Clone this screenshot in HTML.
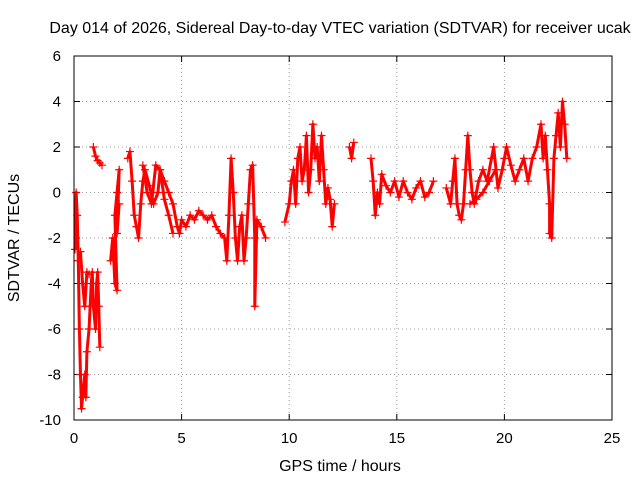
<!DOCTYPE html>
<html><head><meta charset="utf-8"><style>
body{margin:0;background:#fff;}
svg{display:block;font-family:"Liberation Sans",sans-serif;}
</style></head><body>
<svg id="chart" width="640" height="480" viewBox="0 0 640 480">
<rect width="640" height="480" fill="#fff"/>
<text x="340" y="33" font-size="16" text-anchor="middle">Day 014 of 2026, Sidereal Day-to-day VTEC variation (SDTVAR) for receiver ucak</text>
<text x="340" y="471" font-size="16" text-anchor="middle">GPS time / hours</text>
<text transform="translate(19,238) rotate(-90)" font-size="16" text-anchor="middle">SDTVAR / TECUs</text>
<g id="grid"></g><g id="ticks"></g><g id="series"></g>
<rect x="74" y="56" width="538" height="364" fill="none" stroke="#000" stroke-width="1"/>
</svg>
<script>
const xTicks=[0,5,10,15,20,25];
const yTicks=[-10,-8,-6,-4,-2,0,2,4,6];
const segA=[[0.05,-2.5],[0.1,0],[0.15,-1],[0.2,-3],[0.25,-6],[0.3,-8],[0.35,-9.5],[0.4,-9],[0.5,-8],[0.55,-9],[0.6,-7],[0.7,-6],[0.75,-5],[0.8,-4],[0.85,-3.5],[0.9,-5],[1.0,-6],[1.05,-4],[1.1,-3.5],[1.15,-5],[1.2,-6.8]];
const segB=[[0.3,-2.6],[0.4,-4],[0.5,-5],[0.6,-3.5],[0.7,-3.6]];
const segC=[[0.9,2],[1.0,1.6],[1.1,1.4],[1.2,1.3],[1.3,1.2]];
const segD=[[1.7,-3],[1.8,-2],[1.9,-4],[2.0,-4.3],[1.9,-1],[2.0,0],[2.1,1],[2.0,-1.8],[2.1,-0.5]];
const segE=[[2.5,1.5],[2.6,1.8],[2.7,0.5],[2.8,-1],[2.9,-1.5],[3.0,-2],[3.1,-0.5],[3.2,0.5],[3.3,1],[3.5,0.3],[3.7,-0.5],[3.9,0],[4.0,1],[4.2,0.5],[4.4,0],[4.6,-0.5],[4.8,-1.5],[4.9,-1.8],[5.0,-1.2],[5.2,-1.5],[5.4,-1],[5.6,-1.2],[5.8,-0.8],[6.0,-1],[6.2,-1.2],[6.4,-1],[6.6,-1.5],[6.8,-1.8],[7.0,-2],[7.1,-3],[7.2,-1],[7.3,1.5],[7.4,0],[7.5,-2],[7.6,-3],[7.7,-1.5],[7.8,-1],[7.9,-3],[8.0,-2],[8.1,-0.5],[8.2,1],[8.3,1.2],[8.4,-2],[8.4,-5],[8.5,-1.2],[8.7,-1.5],[8.9,-2]];
const segF=[[3.2,1.2],[3.4,0],[3.6,-0.5],[3.8,1.2],[4.0,1],[4.2,-0.3],[4.4,-1],[4.6,-1.8]];
const segG=[[9.8,-1.3],[10.0,-0.5],[10.1,0.5],[10.2,1],[10.3,-0.5],[10.4,1.5],[10.5,2],[10.6,0.5],[10.7,1],[10.8,2.5],[10.9,0],[11.0,1],[11.1,3],[11.2,1.5],[11.3,2],[11.4,0.5],[11.5,2.5],[11.6,1],[11.7,-0.5],[11.8,0.2],[11.9,-0.3],[12.0,-1.5],[12.1,-0.5]];
const segH=[[12.8,2],[12.9,1.5],[13.0,2.2]];
const segI=[[13.8,1.5],[13.9,0.5],[14.0,-1],[14.1,0],[14.2,-0.5],[14.3,0.8],[14.5,0.3],[14.7,0],[14.9,0.5],[15.1,-0.2],[15.3,0.5],[15.5,0],[15.7,-0.3],[15.9,0.2],[16.1,0.5],[16.3,-0.2],[16.5,0],[16.7,0.5]];
const segJ=[[17.3,0.2],[17.5,-0.5],[17.6,0.5],[17.7,1.5],[17.8,-0.5],[17.9,-1],[18.0,-1.2],[18.1,-0.5],[18.2,1],[18.3,2.5],[18.4,1],[18.5,0],[18.6,-0.5],[18.8,0.5],[19.0,1],[19.2,0.5],[19.4,1.5],[19.5,2],[19.7,0.2],[19.9,1],[20.0,1.5],[20.1,2],[20.3,1.2],[20.5,0.5],[20.7,1],[20.9,1.5],[21.1,0.5],[21.3,1.5],[21.5,2],[21.7,3],[21.8,1.5],[21.9,2.5],[22.0,1],[22.1,-0.5],[22.1,-1.8],[22.2,-2],[22.3,1.5],[22.4,2.5],[22.5,3.5],[22.6,2],[22.7,4],[22.8,3],[22.9,1.5]];
const segK=[[18.4,-0.5],[18.7,-0.3],[19.0,0],[19.3,0.5],[19.6,1]];
const segments=[segA,segB,segC,segD,segE,segF,segG,segH,segI,segJ,segK];

const X0=74,X1=612,Y0=420,Y1=56;
const xs=t=>X0+(t-0)/(25-0)*(X1-X0);
const ys=v=>Y0-(v+10)/(16)*(Y0-Y1);
const NS="http://www.w3.org/2000/svg";
const mk=(tag,at,parent)=>{const e=document.createElementNS(NS,tag);for(const k in at)e.setAttribute(k,at[k]);parent.appendChild(e);return e;};
const grid=document.getElementById('grid'),ticks=document.getElementById('ticks'),ser=document.getElementById('series');
xTicks.forEach(t=>{const x=xs(t);
 const g=mk('line',{x1:x,x2:x,y1:Y1,y2:Y0,stroke:'#a0a0a0','stroke-dasharray':'1,3'},grid);
 
 
 mk('line',{x1:x,x2:x,y1:Y0,y2:Y0-6,stroke:'#000'},ticks);
 mk('line',{x1:x,x2:x,y1:Y1,y2:Y1+6,stroke:'#000'},ticks);
 const l=mk('text',{x:x,y:Y0+23,'font-size':15,'text-anchor':'middle'},ticks);l.textContent=t;
 
 
});
yTicks.forEach(v=>{const y=ys(v);
 const g=mk('line',{x1:X0,x2:X1,y1:y,y2:y,stroke:'#a0a0a0','stroke-dasharray':'1,3'},grid);
 
 
 mk('line',{x1:X0,x2:X0+6,y1:y,y2:y,stroke:'#000'},ticks);
 mk('line',{x1:X1,x2:X1-6,y1:y,y2:y,stroke:'#000'},ticks);
 const l=mk('text',{x:X0-13,y:y+5,'font-size':15,'text-anchor':'end'},ticks);l.textContent=v;
 
 
});
segments.forEach(seg=>{
 const pl=mk('polyline',{points:seg.map(p=>xs(p[0])+','+ys(p[1])).join(' '),fill:'none',stroke:'#f00','stroke-width':3,'stroke-linejoin':'round'},ser);
 
 
 seg.forEach(p=>{const x=xs(p[0]),y=ys(p[1]);
  const m=mk('path',{d:`M${x-4},${y}H${x+4}M${x},${y-4}V${y+4}`,stroke:'#f00','stroke-width':1.2},ser);
  
  
 });
});
</script>
</body></html>
